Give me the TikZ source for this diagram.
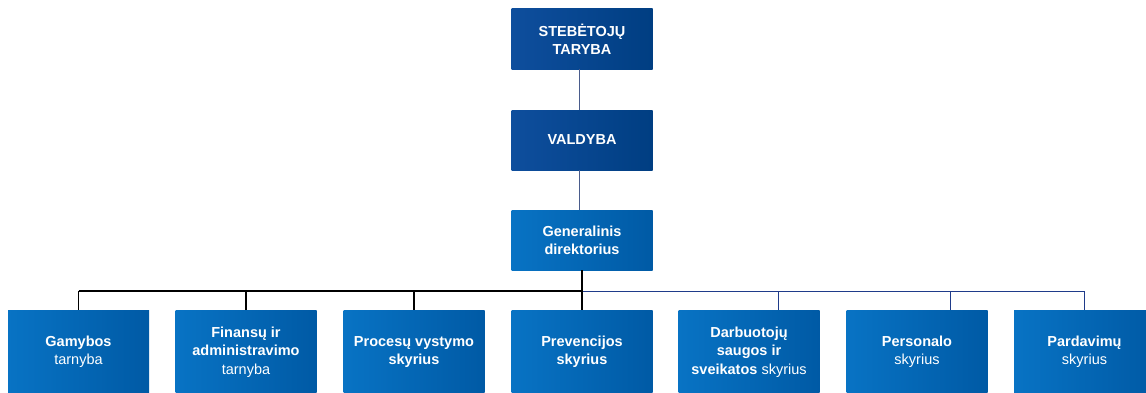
\documentclass[tikz,border=0pt]{standalone}
\usepackage{fontspec}
\setmainfont{Liberation Sans}
\definecolor{navyL}{HTML}{0E4E9D}
\definecolor{navyR}{HTML}{003E82}
\definecolor{blueL}{HTML}{0873C4}
\definecolor{blueR}{HTML}{005AA5}
\definecolor{slateline}{HTML}{4A5C8C}
\definecolor{busblue}{HTML}{1F3B8A}
\begin{document}
\begin{tikzpicture}[x=1pt,y=1pt,
  box/.style={minimum width=141pt, inner sep=0pt, text=white,
    font=\fontsize{14.5}{18.3}\selectfont\bfseries, align=center},
  topbox/.style={box, minimum height=60pt, left color=navyL, right color=navyR},
  subbox/.style={box, minimum height=84pt, left color=blueL, right color=blueR},
  topline/.style={draw=slateline, line width=1pt},
  blackline/.style={draw=black, line width=1.3pt},
  blueline/.style={draw=busblue, line width=1pt}]
\useasboundingbox (0,0) rectangle (1146,392);
\clip (0,0) rectangle (1146,392);
\fill[white] (0,0) rectangle (1146,392);

\node[topbox] (sup) at (582,353) {STEBĖTOJŲ\\TARYBA};
\node[topbox] (val) at (582,252) {VALDYBA};
\node[topbox, left color=blueL, right color=blueR] (dir) at (582,152) {Generalinis\\direktorius};

\node[subbox] (b1) at (78.5,40) {Gamybos\\{\mdseries tarnyba}};
\node[subbox] (b2) at (246,40) {Finansų ir\\administravimo\\{\mdseries tarnyba}};
\node[subbox] (b3) at (414,40) {Procesų vystymo\\skyrius};
\node[subbox] (b4) at (582,40) {Prevencijos\\skyrius};
\node[subbox] (b5) at (749,40) {Darbuotojų\\saugos ir\\sveikatos {\mdseries skyrius}};
\node[subbox] (b6) at (917,40) {Personalo\\{\mdseries skyrius}};
\node[subbox] (b7) at (1084.5,40) {Pardavimų\\{\mdseries skyrius}};

\coordinate (busL) at (78.5,101);
\coordinate (busM) at (582,101);
\coordinate (busR) at (1084.5,101);

\draw[topline] ([xshift=-3pt]sup.south) -- ([xshift=-3pt]val.north);
\draw[topline] ([xshift=-3pt]val.south) -- ([xshift=-3pt]dir.north);

\draw[blueline] (busM) -- (busR);
\draw[blueline] ([xshift=29pt]b5.north |- busM) -- ([xshift=29pt]b5.north);
\draw[blueline] ([xshift=33pt]b6.north |- busM) -- ([xshift=33pt]b6.north);
\draw[blueline] (b7.north |- busM) -- (b7.north);

\draw[blackline] (dir.south) -- (busM);
\draw[blackline] (busL) -- (busM);
\draw[blackline] (b1.north |- busM) -- (b1.north);
\draw[blackline] (b2.north |- busM) -- (b2.north);
\draw[blackline] (b3.north |- busM) -- (b3.north);
\draw[blackline] (b4.north |- busM) -- (b4.north);
\end{tikzpicture}
\end{document}
